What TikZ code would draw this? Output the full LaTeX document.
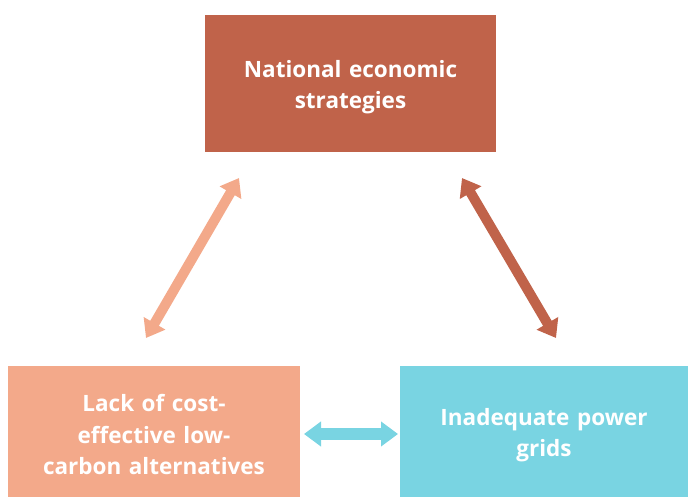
\documentclass[tikz,border=0pt]{standalone}
\usepackage{fontspec}
\setmainfont{Open Sans}
\usetikzlibrary{arrows.meta}
\definecolor{brick}{HTML}{C0634A}
\definecolor{salmon}{HTML}{F3A98A}
\definecolor{aqua}{HTML}{79D4E2}
\tikzset{
    box/.style={minimum width=291pt,minimum height=137pt,inner sep=0pt,text width=285pt,align=center,
        text=white,font=\fontsize{22.5}{31.5}\selectfont\bfseries,text height=24pt},
    link/.style={line width=10pt,{Triangle[width=24pt,length=17pt]}-{Triangle[width=24pt,length=17pt]}}
}
\begin{document}
\begin{tikzpicture}[x=1pt,y=-1pt]
    \useasboundingbox (0,0) rectangle (688,497);
    % three boxes
    \node[box,fill=brick] (econ) at (350.5,83.5) {National economic\\strategies};
    \node[box,fill=salmon,minimum width=292pt,minimum height=131pt] (lack) at (154,431.5) {Lack of cost-\\effective low-\\carbon alternatives};
    \node[box,fill=aqua,minimum width=288pt,minimum height=131pt] (grids) at (544,431.5) {Inadequate power\\grids};
    % arrow ends
    \coordinate (l1) at (146,338);
    \coordinate (l2) at (239,178);
    \coordinate (r1) at (462,178);
    \coordinate (r2) at (556,338);
    \coordinate (h1) at (304,434);
    \coordinate (h2) at (398,434);
    \draw[link,salmon] (l1) -- (l2);
    \draw[link,brick] (r1) -- (r2);
    \draw[link,aqua,line width=12pt] (h1) -- (h2);
\end{tikzpicture}
\end{document}
